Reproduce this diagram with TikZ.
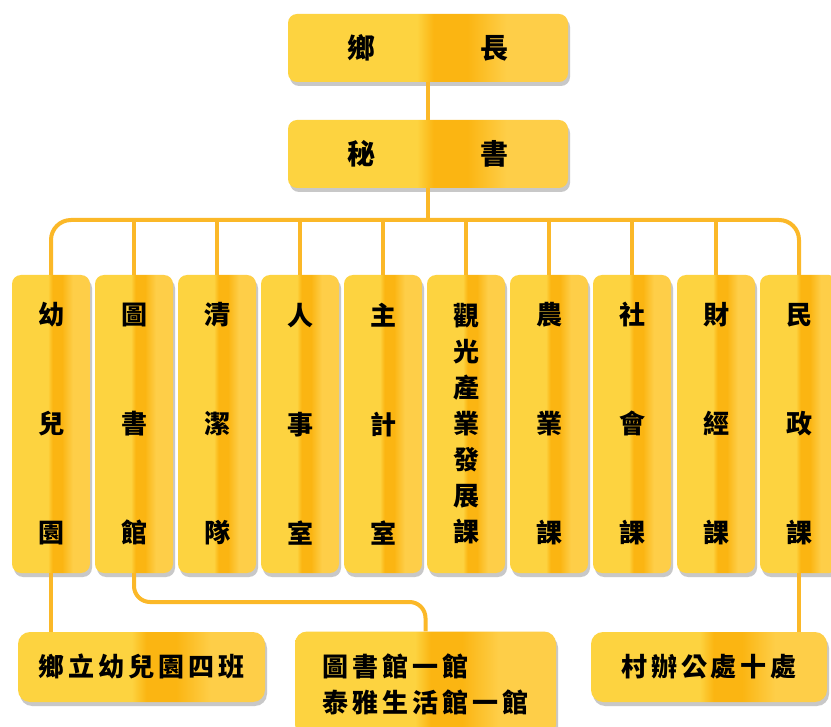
\documentclass[tikz,border=0pt]{standalone}
\usepackage{fontspec}
\newfontfamily\cjk{Noto Sans CJK TC}
\newfontfamily\cjkwide[LetterSpace=15]{Noto Sans CJK TC}
\usetikzlibrary{shadows}
\definecolor{ylight}{RGB}{253,211,64}
\definecolor{ydark}{RGB}{251,181,18}
\definecolor{yright}{RGB}{254,206,72}
\definecolor{linkcol}{RGB}{251,184,40}
\pgfdeclarehorizontalshading{stripe}{100bp}{color(0bp)=(ylight); color(48bp)=(ylight); color(51bp)=(ydark); color(57bp)=(ydark); color(64bp)=(yright); color(100bp)=(yright)}

\begin{document}
\begin{tikzpicture}[x=1pt,y=-1pt,
  box/.style={rounded corners=9pt, shade, shading=stripe, inner sep=0pt,
    drop shadow={shadow xshift=2pt, shadow yshift=-4pt, opacity=0.3, fill=black!70}},
  head/.style={box, minimum width=280pt, minimum height=68pt, font=\cjk\bfseries\fontsize{28}{34}\selectfont},
  unit/.style={box, minimum width=78pt, minimum height=298pt, align=center, font=\cjk\bfseries\fontsize{26}{36}\selectfont},
  sub/.style={box, rounded corners=12pt, align=left, font=\cjkwide\bfseries\fontsize{26}{36}\selectfont},
  link/.style={draw=linkcol, line width=4pt}]
\clip (0,0) rectangle (831,727);
\fill[white] (0,0) rectangle (831,727);
% top of the chart
\node[head] (chief) at (428,48) {鄉\hspace{105pt}長};
\node[head] (sec) at (428,154) {秘\hspace{105pt}書};
% offices
\node[unit] (c1) at (51,424) {幼\\[73pt]兒\\[73pt]園};
\node[unit] (c2) at (134,424) {圖\\[73pt]書\\[73pt]館};
\node[unit] (c3) at (217,424) {清\\[73pt]潔\\[73pt]隊};
\node[unit] (c4) at (300,424) {人\\[73pt]事\\[73pt]室};
\node[unit] (c5) at (383,424) {主\\[73pt]計\\[73pt]室};
\node[unit] (c6) at (466,424) {觀\\光\\產\\業\\發\\展\\課};
\node[unit] (c7) at (549,424) {農\\[73pt]業\\[73pt]課};
\node[unit] (c8) at (632,424) {社\\[73pt]會\\[73pt]課};
\node[unit] (c9) at (716,424) {財\\[73pt]經\\[73pt]課};
\node[unit] (c10) at (799,424) {民\\[73pt]政\\[73pt]課};
% lower units
\node[sub, minimum width=247pt, minimum height=70pt] (b1) at (141.5,667) {鄉立幼兒園四班};
\node[sub, minimum width=261pt, minimum height=105pt] (b2) at (425.5,684) {圖書館一館\\泰雅生活館一館};
\node[sub, minimum width=236pt, minimum height=70pt] (b3) at (709,667) {村辦公處十處};
% connectors
\coordinate (bus) at (428,220);
\coordinate (split) at (0,602);
\draw[link] (chief.south) -- (sec.north);
\draw[link] (sec.south) -- (bus);
\draw[link, rounded corners=20pt] (c1.north) |- (bus) -| (c10.north);
\draw[link] (c2.north) -- (c2.north |- bus) (c3.north) -- (c3.north |- bus)
  (c4.north) -- (c4.north |- bus) (c5.north) -- (c5.north |- bus)
  (c6.north) -- (c6.north |- bus) (c7.north) -- (c7.north |- bus)
  (c8.north) -- (c8.north |- bus) (c9.north) -- (c9.north |- bus);
\draw[link] (c1.south) -- (c1.south |- b1.north);
\draw[link, rounded corners=16pt] (c2.south) |- (b2.north |- split) -- (b2.north);
\draw[link] (c10.south) -- (c10.south |- b3.north);
\end{tikzpicture}
\end{document}
